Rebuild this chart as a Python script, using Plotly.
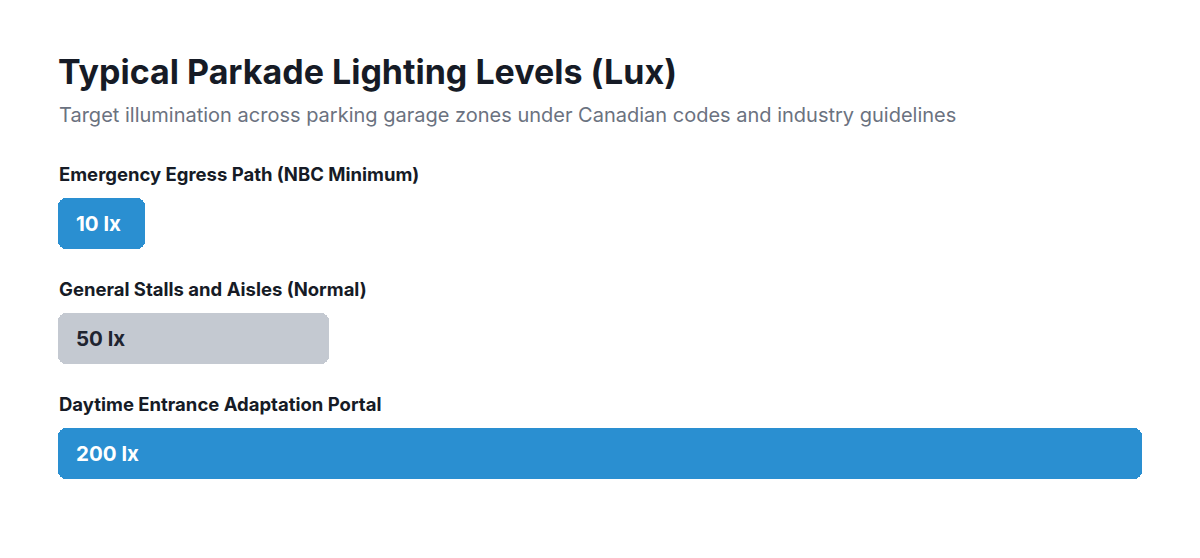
import plotly.graph_objects as go

categories = ["Emergency Egress Path (NBC Minimum)",
              "General Stalls and Aisles (Normal)",
              "Daytime Entrance Adaptation Portal"]
values = [10, 50, 200]
units = "lx"
bar_colors = ["#2a8fd1", "#c4c9d1", "#2a8fd1"]
text_colors = ["#ffffff", "#1f2430", "#ffffff"]

title = "Typical Parkade Lighting Levels (Lux)"
subtitle = "Target illumination across parking garage zones under Canadian codes and industry guidelines"

W, H = 1200, 558
ML, MR, MT, MB = 58, 58, 166, 47
x_max = max(values)
plot_w = W - ML - MR
MIN_BAR_PX = 87  # minimum visible bar width so the label fits
min_val = MIN_BAR_PX / plot_w * x_max
display_vals = [max(v, min_val) for v in values]
ypos = list(range(len(categories)))

fig = go.Figure()
# each bar drawn as two overlapping pieces so both ends get rounded corners
right_base = [d * 0.3 for d in display_vals]
fig.add_trace(go.Bar(
    x=[d * 0.7 for d in display_vals], y=ypos, base=right_base, orientation="h",
    marker=dict(color=bar_colors, cornerradius=8, line=dict(width=0)),
    width=51 / 115, hoverinfo="skip", showlegend=False,
))
fig.add_trace(go.Bar(
    x=[-d * 0.7 for d in display_vals], y=ypos, base=[d * 0.7 for d in display_vals], orientation="h",
    marker=dict(color=bar_colors, cornerradius=8, line=dict(width=0)),
    width=51 / 115, hoverinfo="skip", showlegend=False,
))

ann = []
FONT = "Inter, Lato, sans-serif"
for i, (c, v) in enumerate(zip(categories, values)):
    ann.append(dict(x=0, y=i, xref="x", yref="y", text=f"<b>{c}</b>", showarrow=False,
                    xanchor="left", yanchor="middle", yshift=49.5, xshift=-1,
                    font=dict(family=FONT, size=18.5, color="#161b26")))
    ann.append(dict(x=0, y=i, xref="x", yref="y", text=f"<b>{v} {units}</b>", showarrow=False,
                    xanchor="left", yanchor="middle", xshift=16,
                    font=dict(family=FONT, size=20.5, color=text_colors[i])))

ph = H - MT - MB
def py(pix):
    return (H - MB - pix) / ph

ann.append(dict(x=0, y=py(72), xref="paper", yref="paper", text=f"<b>{title}</b>", showarrow=False,
                xanchor="left", yanchor="middle", xshift=-2,
                font=dict(family=FONT, size=34, color="#161b26")))
ann.append(dict(x=0, y=py(115), xref="paper", yref="paper", text=subtitle, showarrow=False,
                xanchor="left", yanchor="middle", xshift=-1,
                font=dict(family=FONT, size=20, color="#6b7280")))

fig.update_layout(
    width=W, height=H,
    margin=dict(l=ML, r=MR, t=MT, b=MB),
    paper_bgcolor="#ffffff", plot_bgcolor="#ffffff",
    xaxis=dict(range=[0, x_max], visible=False, fixedrange=True),
    yaxis=dict(range=[len(categories) - 0.5, -0.5], visible=False, fixedrange=True),
    annotations=ann,
    barmode="overlay",
    bargap=0,
)
fig.write_html("out.html", config={"displayModeBar": False})
